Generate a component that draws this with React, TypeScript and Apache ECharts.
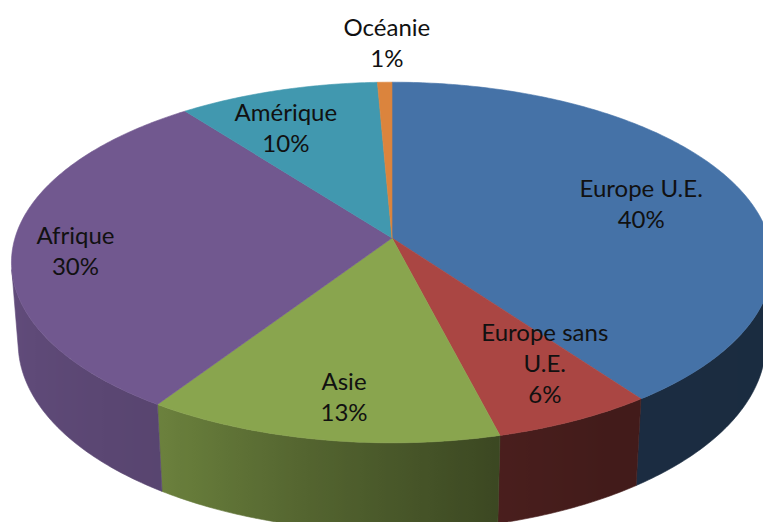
import React, { useEffect, useRef } from "react";
import * as echarts from "echarts";

// ---- Data ----
const categories = ["Europe U.E.", "Europe sans U.E.", "Asie", "Afrique", "Amérique", "Océanie"];
const labelNames = ["Europe U.E.", "Europe sans\nU.E.", "Asie", "Afrique", "Amérique", "Océanie"];
const values = [40.0, 6.0, 13.3, 30.3, 9.7, 0.7];

// ---- Styles ----
const topColors = ["#4572A7", "#AA4643", "#89A54E", "#71588F", "#4198AF", "#DB843D"];
// side brightness factor by rim angle (degrees clockwise from the far point)
const shadeTable: [number, number][] = [
  [100, 0.38], [150, 0.39], [165, 0.43], [190, 0.6], [213, 0.78], [240, 0.83], [260, 0.86],
];
// label layout: radial fraction and pixel nudges
const labelRadius = [0.71, 0.72, 0.8, 0.85, 0.75, 1.3];
const labelOffset: [number, number][] = [[2, 3], [26, -2], [8, 2], [5, 7], [-18, 3], [4, 0]];

// ---- 3D projection (layout) ----
const CX = 392;
const CY = 238;
const FOCAL = 2450.5;
const DIST = 6.5;
const TILT = (28 * Math.PI) / 180;
const THICK = 0.245;
const sinA = Math.sin(TILT);
const cosA = Math.cos(TILT);
const SIL = (Math.acos(-1 / (DIST * cosA)) * 180) / Math.PI; // visible side from SIL to 360-SIL
const SIL_L = SIL;
const SIL_R = 360 - SIL;

function project(r: number, deg: number, yh: number): [number, number] {
  const t = (deg * Math.PI) / 180;
  const u = r * Math.sin(t);
  const v = -r * Math.cos(t);
  const zc = DIST - yh * sinA - v * cosA;
  return [CX + (FOCAL * u) / zc, CY - (FOCAL * (yh * cosA - v * sinA)) / zc];
}

function shade(deg: number): number {
  if (deg <= shadeTable[0][0]) return shadeTable[0][1];
  for (let k = 1; k < shadeTable.length; k++) {
    const [a0, f0] = shadeTable[k - 1];
    const [a1, f1] = shadeTable[k];
    if (deg <= a1) return f0 + ((f1 - f0) * (deg - a0)) / (a1 - a0);
  }
  return shadeTable[shadeTable.length - 1][1];
}

function scaleColor(hex: string, f: number): string {
  const n = parseInt(hex.slice(1), 16);
  const r = Math.round(((n >> 16) & 255) * f);
  const g = Math.round(((n >> 8) & 255) * f);
  const b = Math.round((n & 255) * f);
  return `rgb(${r},${g},${b})`;
}

function arcSamples(a: number, b: number): number[] {
  const n = Math.max(2, Math.ceil((b - a) / 0.75) + 1);
  const out: number[] = [];
  for (let k = 0; k < n; k++) out.push(a + ((b - a) * k) / (n - 1));
  return out;
}

export default function App() {
  const ref = useRef<HTMLDivElement>(null);

  useEffect(() => {
    if (!ref.current) return;
    const chart = echarts.init(ref.current, undefined, { renderer: "svg" });
    const total = values.reduce((s, v) => s + v, 0);
    const startAngles: number[] = [];
    const endAngles: number[] = [];
    let acc = 0;
    values.forEach((v) => {
      startAngles.push((acc / total) * 360);
      acc += v;
      endAngles.push((acc / total) * 360);
    });

    const renderItem = (params: any, api: any) => {
      const i = params.dataIndex;
      const start = startAngles[i];
      const end = endAngles[i];
      const color = topColors[i];
      const children: any[] = [];

      // side wall (front, visible part)
      const a = Math.max(start, SIL_L);
      const b = Math.min(end, SIL_R);
      if (b > a) {
        const angs = arcSamples(a, b);
        const topPts = angs.map((d) => project(1, d, 0));
        const botPts = angs.map((d) => project(1, d, -THICK)).reverse();
        const pts = topPts.concat(botPts);
        const xs = pts.map((p) => p[0]);
        const minX = Math.min(...xs);
        const maxX = Math.max(...xs);
        const stopsRaw = arcSamples(a, b).map((d) => {
          const [x] = project(1, d, -THICK / 2);
          return { offset: Math.min(1, Math.max(0, (x - minX) / (maxX - minX || 1))), color: scaleColor(color, shade(d)) };
        });
        stopsRaw.sort((p, q) => p.offset - q.offset);
        const grad = new echarts.graphic.LinearGradient(minX, 0, maxX, 0, stopsRaw, true);
        children.push({
          type: "polygon",
          shape: { points: pts },
          style: { fill: grad, stroke: grad, lineWidth: 0.6 },
        });
      }

      // top face
      const topFace: [number, number][] = [project(0, 0, 0)];
      arcSamples(start, end).forEach((d) => topFace.push(project(1, d, 0)));
      children.push({
        type: "polygon",
        shape: { points: topFace },
        style: { fill: color, stroke: color, lineWidth: 0.6, lineJoin: "round" },
      });

      // label
      const mid = (start + end) / 2;
      const [lx, ly] = project(labelRadius[i], mid, 0);
      const pct = Math.round((api.value(0) / total) * 100);
      children.push({
        type: "text",
        x: lx + labelOffset[i][0],
        y: ly + labelOffset[i][1],
        z2: 10,
        style: {
          text: `${labelNames[i]}\n${pct}%`,
          fill: "#111111",
          font: "24px Lato, 'Noto Sans', sans-serif",
          align: "center",
          verticalAlign: "middle",
          lineHeight: 31,
        },
      });

      return { type: "group", children };
    };

    chart.setOption({
      animation: false,
      backgroundColor: "#ffffff",
      series: [
        {
          type: "custom",
          coordinateSystem: "none",
          renderItem,
          data: values.map((v, i) => ({ value: [v], name: categories[i] })),
        },
      ],
    });

    return () => chart.dispose();
  }, []);

  return (
    <div
      ref={ref}
      style={{ position: "fixed", left: 0, top: 0, width: 763, height: 522, background: "#fff" }}
    />
  );
}
